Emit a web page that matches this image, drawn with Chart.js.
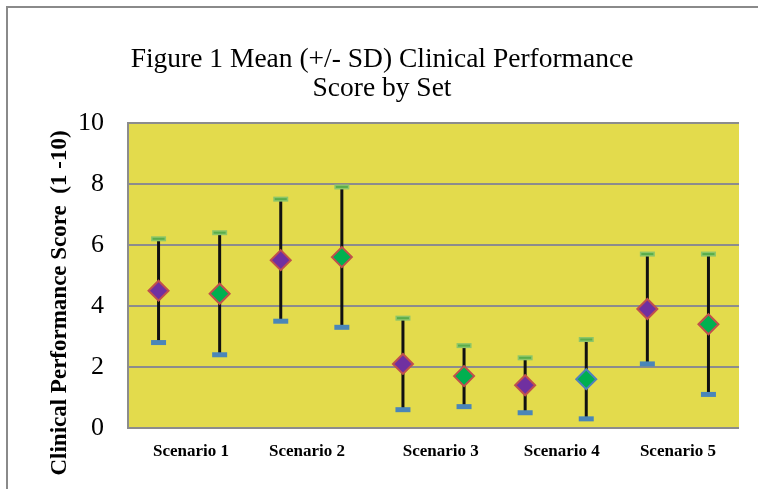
<!DOCTYPE html>
<html>
<head>
<meta charset="utf-8">
<script src="https://cdn.jsdelivr.net/npm/chart.js@4.4.1/dist/chart.umd.min.js"></script>
<style>
    html, body { margin: 0; padding: 0; background: #ffffff; }
    #wrap { width: 758px; height: 489px; position: relative; }
</style>
</head>
<body>
<div id="wrap"><canvas id="chart-scores"></canvas></div>
<script>
// values
const scenarios = ['Scenario 1', 'Scenario 2', 'Scenario 3', 'Scenario 4', 'Scenario 5'];
const scenarioTicks = [0.53, 2.43, 4.62, 6.6, 8.5];
const setIndex = [0, 1, 2, 3, 4, 5, 6, 7, 8, 9];
const setMeans = [4.5, 4.4, 5.5, 5.6, 2.1, 1.7, 1.4, 1.6, 3.9, 3.4];
const sdUpper = [6.2, 6.4, 7.5, 7.9, 3.6, 2.7, 2.3, 2.9, 5.7, 5.7];
const sdLower = [2.8, 2.4, 3.5, 3.3, 0.6, 0.7, 0.5, 0.3, 2.1, 1.1];
const yTicks = [0, 2, 4, 6, 8, 10];
const titleLines = ['Figure 1 Mean (+/- SD) Clinical Performance', 'Score by Set'];
const yTitle = 'Clinical Performance Score  (1 -10)';

const PURPLE = '#7030a0';
const GREEN = '#00b050';
const RED_EDGE = '#c0504d';
const BLUE_EDGE = '#4f81bd';
const GRID = '#8c8c8c';

const fillColors = setIndex.map(i => i % 2 === 0 ? PURPLE : GREEN);
const edgeColors = setIndex.map(i => i === 7 ? BLUE_EDGE : RED_EDGE);

// yellow plot area, outer frame, error bars, rotated y title
const decorPlugin = {
    id: 'decor',
    beforeDraw(chart) {
        const { ctx, chartArea: a } = chart;
        ctx.save();
        ctx.fillStyle = '#e3db4c';
        ctx.fillRect(a.left, a.top, a.right - a.left, a.bottom - a.top);
        ctx.strokeStyle = '#8a8a8a';
        ctx.lineWidth = 2;
        ctx.beginPath();
        ctx.moveTo(7, chart.height);
        ctx.lineTo(7, 7);
        ctx.lineTo(chart.width, 7);
        ctx.stroke();
        ctx.restore();
    },
    beforeDatasetsDraw(chart) {
        const { ctx } = chart;
        const xs = chart.scales.x, ys = chart.scales.y;
        ctx.save();
        setIndex.forEach(i => {
            const x = xs.getPixelForValue(i);
            const yHi = ys.getPixelForValue(sdUpper[i]);
            const yLo = ys.getPixelForValue(sdLower[i]);
            ctx.strokeStyle = '#111111';
            ctx.lineWidth = 3;
            ctx.beginPath();
            ctx.moveTo(x, yHi);
            ctx.lineTo(x, yLo);
            ctx.stroke();
            ctx.fillStyle = '#8cc66a';
            ctx.fillRect(x - 7.5, yHi - 2.5, 15, 5);
            ctx.fillStyle = '#5aad4a';
            ctx.fillRect(x - 6, yHi - 1, 12, 2);
            ctx.fillStyle = '#4a86b8';
            ctx.fillRect(x - 7.5, yLo - 2.5, 15, 5);
        });
        ctx.restore();
    },
    afterDraw(chart) {
        const { ctx } = chart;
        ctx.save();
        ctx.translate(66, 303);
        ctx.rotate(-Math.PI / 2);
        ctx.font = 'bold 23px "Liberation Serif", serif';
        ctx.fillStyle = '#000000';
        ctx.textAlign = 'center';
        ctx.textBaseline = 'alphabetic';
        ctx.fillText(yTitle, 0, 0);
        ctx.restore();
    }
};

new Chart(document.getElementById('chart-scores'), {
    type: 'scatter',
    data: {
        datasets: [{
            label: 'Mean',
            data: setIndex.map(i => ({ x: i, y: setMeans[i] })),
            pointStyle: 'rectRot',
            pointRadius: 10,
            pointHoverRadius: 10,
            backgroundColor: fillColors,
            borderColor: edgeColors,
            borderWidth: 2
        }]
    },
    options: {
        responsive: true,
        maintainAspectRatio: false,
        animation: false,
        layout: { padding: { left: 25, right: 19, top: 0, bottom: 0 } },
        plugins: {
            legend: { display: false },
            tooltip: { enabled: false },
            title: {
                display: true,
                text: titleLines,
                color: '#000000',
                font: { family: '"Liberation Serif", serif', size: 27.5, weight: 'normal', lineHeight: 1.07 },
                padding: { top: 45, bottom: 19 }
            }
        },
        scales: {
            x: {
                type: 'linear',
                min: -0.5,
                max: 9.5,
                afterBuildTicks: axis => {
                    axis.ticks = scenarioTicks.map(v => ({ value: v }));
                },
                afterFit: axis => { axis.height = 61; },
                grid: { display: false, drawTicks: false },
                border: { display: false },
                ticks: {
                    autoSkip: false,
                    maxRotation: 0,
                    padding: 13,
                    color: '#000000',
                    font: { family: '"Liberation Serif", serif', size: 17, weight: 'bold' },
                    callback: (v, idx) => scenarios[idx]
                }
            },
            y: {
                min: 0,
                max: 10,
                afterBuildTicks: axis => {
                    axis.ticks = yTicks.map(v => ({ value: v }));
                },
                afterFit: axis => { axis.width = 103; },
                grid: { color: GRID, lineWidth: 2, drawTicks: false },
                border: { display: true, color: GRID, width: 2 },
                ticks: {
                    padding: 24,
                    color: '#000000',
                    font: { family: '"Liberation Serif", serif', size: 26 }
                }
            }
        }
    },
    plugins: [decorPlugin]
});
</script>
</body>
</html>
